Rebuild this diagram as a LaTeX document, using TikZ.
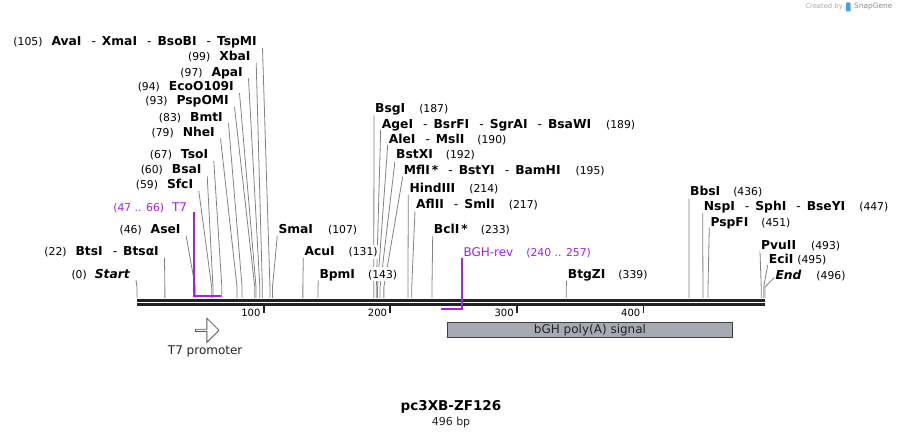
\documentclass[tikz,border=0pt]{standalone}
\usepackage{fontspec}
\setmainfont{DejaVu Sans}
\usetikzlibrary{backgrounds,shapes.arrows}
\definecolor{sitegray}{RGB}{130,130,130}
\definecolor{backbone}{RGB}{34,34,34}
\definecolor{primerpurple}{RGB}{160,32,240}
\definecolor{featgray}{RGB}{166,171,179}
\definecolor{featedge}{RGB}{64,64,64}
\definecolor{snapblue}{RGB}{70,160,225}
\newcommand{\enz}[1]{{\fontsize{12.3}{14}\selectfont\bfseries #1}}
\newcommand{\sepd}{\hspace{10pt}{\mdseries -}\hspace{6pt}}

\begin{document}
\begin{tikzpicture}[x=1pt, y=-1pt,
    lbl/.style={font=\fontsize{10.8}{13}\selectfont, inner sep=1pt, fill=white,
        text height=10pt, text depth=2pt},
    lleft/.style={lbl, anchor=east},
    lright/.style={lbl, anchor=west},
    siteline/.style={draw=sitegray, line width=0.8pt},
    primerline/.style={draw=primerpurple, line width=1.7pt},
    ticknum/.style={font=\fontsize{10}{12}\selectfont, anchor=east, inner sep=0pt}]
\useasboundingbox (0,0) rectangle (903,438);

\foreach \p in {0,22,46,59,60,67,79,83,93,94,97,99,105,107,131,143,187,189,190,
    192,195,214,217,233,339,436,447,451,493,495,496}
    \coordinate (s\p) at ({137+1.2661*\p},287);
\coordinate (p66) at ({137+1.2661*66},296);
\coordinate (p240) at ({137+1.2661*240},309);

% enzymes left of their site
\node[lleft] (avai) at (258,42) {(105)\hspace{9pt}\enz{AvaI\sepd XmaI\sepd BsoBI\sepd TspMI}};
\node[lleft] (xbai) at (251.7,56.7) {(99)\hspace{9pt}\enz{XbaI}};
\node[lleft] (apai) at (244,72.3) {(97)\hspace{9pt}\enz{ApaI}};
\node[lleft] (ecoo) at (235,87) {(94)\hspace{9pt}\enz{EcoO109I}};
\node[lleft] (pspomi) at (230,101) {(93)\hspace{9pt}\enz{PspOMI}};
\node[lleft] (bmti) at (224,117.3) {(83)\hspace{9pt}\enz{BmtI}};
\node[lleft] (nhei) at (216,132.3) {(79)\hspace{9pt}\enz{NheI}};
\node[lleft] (tsoi) at (209.3,155) {(67)\hspace{9pt}\enz{TsoI}};
\node[lleft] (bsai) at (202.7,170) {(60)\hspace{9pt}\enz{BsaI}};
\node[lleft] (sfci) at (194.3,185) {(59)\hspace{9pt}\enz{SfcI}};
\node[lleft, text=primerpurple] (t7) at (188.3,207.3) {(47 .. 66)\hspace{8pt}{\fontsize{12}{14}\selectfont T7}};
\node[lleft] (asei) at (181.7,230) {(46)\hspace{9pt}\enz{AseI}};
\node[lleft] (btsi) at (160,251.7) {(22)\hspace{9pt}\enz{BtsI\sepd BtsαI}};
\node[lleft] (start) at (131,275) {(0)\hspace{8pt}\enz{\itshape Start}};

% enzymes right of their site
\node[lright] (smai) at (277.3,230) {\enz{SmaI}\hspace{15pt}(107)};
\node[lright] (acui) at (303.3,251.7) {\enz{AcuI}\hspace{14pt}(131)};
\node[lright] (bpmi) at (318.3,274.3) {\enz{BpmI}\hspace{13pt}(143)};
\node[lright] (bsgi) at (374,109) {\enz{BsgI}\hspace{14pt}(187)};
\node[lright] (agei) at (380.7,124.3) {\enz{AgeI\sepd BsrFI\sepd SgrAI\sepd BsaWI}\hspace{15pt}(189)};
\node[lright] (alei) at (387.7,140) {\enz{AleI\sepd MslI}\hspace{13pt}(190)};
\node[lright] (bstxi) at (395,155) {\enz{BstXI}\hspace{13pt}(192)};
\node[lright] (mfli) at (402.7,170.7) {\enz{MflI\,*\sepd BstYI\sepd BamHI}\hspace{15pt}(195)};
\node[lright] (hind) at (408.3,189) {\enz{HindIII}\hspace{14pt}(214)};
\node[lright] (afli) at (415,205) {\enz{AflII\sepd SmlI}\hspace{14pt}(217)};
\node[lright] (bcli) at (432.7,230) {\enz{BclI\,*}\hspace{13pt}(233)};
\node[lright, text=primerpurple] (bghrev) at (462.3,252.3) {{\fontsize{12}{14}\selectfont BGH-rev}\hspace{13pt}(240 .. 257)};
\node[lright] (btgzi) at (566.7,274.3) {\enz{BtgZI}\hspace{13pt}(339)};
\node[lright] (bbsi) at (689,191.7) {\enz{BbsI}\hspace{13pt}(436)};
\node[lright] (nspi) at (702.7,206.7) {\enz{NspI\sepd SphI\sepd BseYI}\hspace{14pt}(447)};
\node[lright] (pspfi) at (709.3,222.3) {\enz{PspFI}\hspace{13pt}(451)};
\node[lright] (pvuii) at (760,246) {\enz{PvuII}\hspace{15pt}(493)};
\node[lright] (ecii) at (767.7,260) {\enz{EciI}\hspace{4pt}(495)};
\node[lright] (endl) at (774.3,276) {\enz{\itshape End}\hspace{15pt}(496)};

\begin{scope}[on background layer]
\draw[siteline] (avai.east) ++(4.5,6) -- (s105) -- ++(0,11);
\draw[siteline] (xbai.east) ++(4.5,6) -- (s99) -- ++(0,11);
\draw[siteline] (apai.east) ++(4.5,6) -- (s97) -- ++(0,11);
\draw[siteline] (ecoo.east) ++(4.5,6) -- (s94) -- ++(0,11);
\draw[siteline] (pspomi.east) ++(4.5,6) -- (s93) -- ++(0,11);
\draw[siteline] (bmti.east) ++(4.5,6) -- (s83) -- ++(0,11);
\draw[siteline] (nhei.east) ++(4.5,6) -- (s79) -- ++(0,11);
\draw[siteline] (tsoi.east) ++(4.5,6) -- (s67) -- ++(0,11);
\draw[siteline] (bsai.east) ++(4.5,6) -- (s60) -- ++(0,11);
\draw[siteline] (sfci.east) ++(4.5,6) -- (s59) -- ++(0,11);
\draw[siteline] (asei.east) ++(4.5,6) -- (s46) -- ++(0,11);
\draw[siteline] (btsi.east) ++(4.5,6) -- (s22) -- ++(0,11);
\draw[siteline] (start.east) ++(5,5) -- (s0) -- ++(0,11);
\draw[siteline] (smai.west) ++(0,6) -- (s107) -- ++(0,11);
\draw[siteline] (acui.west) ++(0,6) -- (s131) -- ++(0,11);
\draw[siteline] (bpmi.west) ++(0,6) -- (s143) -- ++(0,11);
\draw[siteline] (bsgi.west) ++(0,6) -- (s187) -- ++(0,11);
\draw[siteline] (agei.west) ++(0,5) -- (s189) -- ++(0,11);
\draw[siteline] (alei.west) ++(0,5) -- (s190) -- ++(0,11);
\draw[siteline] (bstxi.west) ++(0,6) -- (s192) -- ++(0,11);
\draw[siteline] (mfli.west) ++(0,6) -- (s195) -- ++(0,11);
\draw[siteline] (hind.west) ++(0,6) -- (s214) -- ++(0,11);
\draw[siteline] (afli.west) ++(0,6) -- (s217) -- ++(0,11);
\draw[siteline] (bcli.west) ++(0,6) -- (s233) -- ++(0,11);
\draw[siteline] (btgzi.west) ++(0,6) -- (s339) -- ++(0,11);
\draw[siteline] (bbsi.west) ++(0,6) -- (s436) -- ++(0,11);
\draw[siteline] (nspi.west) ++(0,6) -- (s447) -- ++(0,11);
\draw[siteline] (pspfi.west) ++(0,5) -- (s451) -- ++(0,11);
\draw[siteline] (pvuii.west) ++(0,5) -- (s493) -- ++(0,11);
\draw[siteline] (ecii.west) ++(0,5) -- (s495) -- ++(0,11);
\draw[siteline] (endl.west) ++(0,1.5) -- (s496) -- ++(0,11);
\end{scope}

% backbone and ruler
\draw[draw=backbone, line width=2.6pt] (137,300.5) -- (765,300.5);
\draw[draw=backbone, line width=2.4pt] (137,304.5) -- (765,304.5);
\foreach \t in {100,200,300,400} {
    \draw[draw=backbone, line width=1.8pt] ({137+1.2661*\t},305) -- ++(0,8);
    \node[ticknum] (tick\t) at ({137+1.2661*\t-3},312.5) {\t};
}

% primers
\draw[primerline] (t7.east) ++(6,5) |- (p66);
\draw[primerline] (bghrev.west) ++(0,6) |- (p240);

% features
\node[single arrow, draw=featedge!85, fill=white, line width=0.8pt, minimum width=24pt,
    minimum height=23.3pt, single arrow head extend=4pt, inner sep=0pt] (t7arrow) at (206.7,330.3) {};
\node[font=\fontsize{12}{14}\selectfont, text=backbone] (t7name) at (205.2,351.5) {T7 promoter};
\node[draw=featedge, fill=featgray, line width=0.8pt, minimum width=285.4pt, minimum height=15.4pt,
    inner sep=0pt, font=\fontsize{12}{14}\selectfont, text=backbone] (bghpa) at (590,330) {bGH poly(A) signal};

\node[font=\fontsize{13.5}{16}\selectfont\bfseries] (title) at (451,407) {pc3XB-ZF126};
\node[font=\fontsize{11}{13}\selectfont, text=backbone] (size) at (451,422) {496 bp};

\node[font=\fontsize{6.8}{8}\selectfont, text=black!35, anchor=east, inner sep=0pt] (made) at (843,7) {Created by};
\fill[snapblue, rounded corners=0.8pt] (846,2.5) rectangle (850.5,11.5);
\node[font=\fontsize{7.4}{9}\selectfont, text=black!45, anchor=west, inner sep=0pt] (sg) at (854,7) {SnapGene};
\end{tikzpicture}
\end{document}
